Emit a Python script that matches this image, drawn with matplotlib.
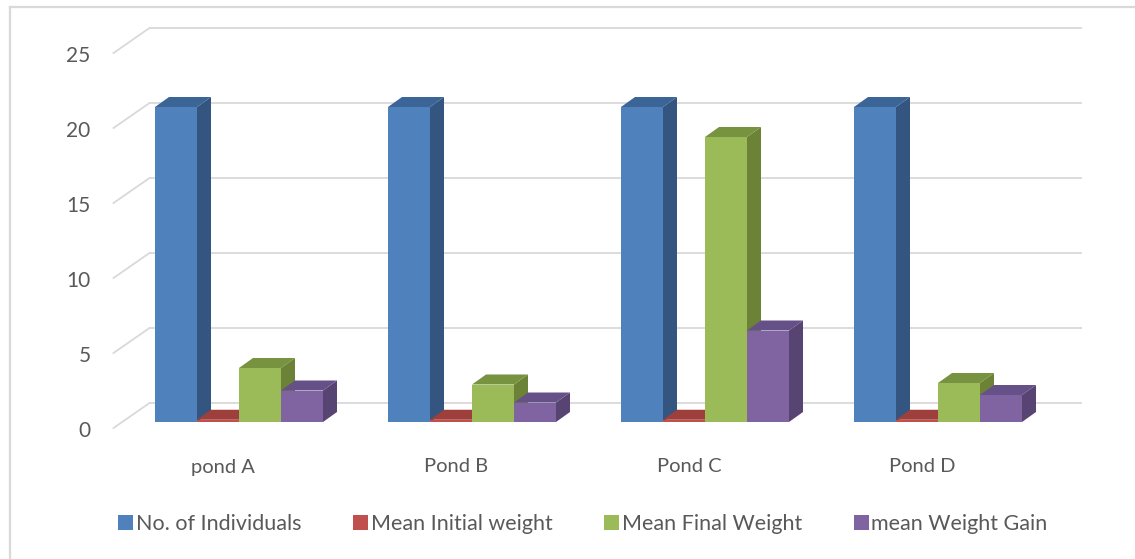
import matplotlib
matplotlib.use("Agg")
import matplotlib.pyplot as plt
from matplotlib.patches import Polygon, Patch
from matplotlib.lines import Line2D
import numpy as np

plt.rcParams['font.family'] = ['Lato', 'DejaVu Sans']

ponds = ["pond A", "Pond B", "Pond C", "Pond D"]
series = ["No. of Individuals", "Mean Initial weight", "Mean Final Weight", "mean Weight Gain"]
individuals = [21, 21, 21, 21]
initial_weight = [0.15, 0.15, 0.15, 0.15]
final_weight = [3.6, 2.5, 19, 2.6]
weight_gain = [2.1, 1.3, 6.1, 1.8]
yticks = [0, 5, 10, 15, 20, 25]

# front face, side face, top face
colors = [
    ("#4F81BD", "#34557F", "#3B6597"),
    ("#C0504D", "#8E3A38", "#9E3F3C"),
    ("#9BBB59", "#6B8237", "#779340"),
    ("#8064A2", "#584473", "#665088"),
]
grid_col = "#D9D9D9"
text_col = "#595959"

W, H, DPI = 1135, 559, 100
fig = plt.figure(figsize=(W / DPI, H / DPI), dpi=DPI)
ax = fig.add_axes([0, 0, 1, 1])
# one category = 233 px, one value unit = 15 px
PX_X, PX_Y = 233.0, 15.0
x0_px, y0_px = 239.0, H - 422.0
ax.set_xlim(-x0_px / PX_X, (W - x0_px) / PX_X)
ax.set_ylim(-y0_px / PX_Y, (H - y0_px) / PX_Y)
ax.axis("off")

def off(px, py):
    return px / PX_X, py / PX_Y

# depth offsets (pixels) relative to the bar front plane
bar_d = off(14, 10)
back_d = off(27, 19)
front_d = off(-9, -6)

left, right = -0.5, 3.5
# back wall gridlines and side-wall diagonals
for t in yticks:
    ax.plot([left + back_d[0], right + back_d[0]], [t + back_d[1]] * 2,
            color=grid_col, lw=1.3, zorder=1, solid_capstyle="butt")
    ax.plot([left + front_d[0], left + back_d[0]], [t + front_d[1], t + back_d[1]],
            color=grid_col, lw=1.3, zorder=1)
    ax.text(left + front_d[0] - 23 / PX_X, t + front_d[1] - 3 / PX_Y, str(t), ha="right",
            va="center", fontsize=15, color=text_col)

bw = 42 / PX_X
values = [individuals, initial_weight, final_weight, weight_gain]
z = 2
for i in range(len(ponds)):
    for j, vals in enumerate(values):
        v = vals[i]
        xl = i + (j - 2) * bw
        xr = xl + bw
        front, side, top = colors[j]
        ax.bar(xl, v, width=bw, align="edge", color=front, zorder=z, lw=0)
        ax.add_patch(Polygon([(xr, 0), (xr + bar_d[0], bar_d[1]),
                              (xr + bar_d[0], v + bar_d[1]), (xr, v)],
                             closed=True, color=side, lw=0, zorder=z))
        ax.add_patch(Polygon([(xl, v), (xr, v), (xr + bar_d[0], v + bar_d[1]),
                              (xl + bar_d[0], v + bar_d[1])],
                             closed=True, color=top, lw=0, zorder=z))
        z += 1

for i, name in enumerate(ponds):
    ax.text(i + front_d[0] - 7 / PX_X, front_d[1] - 39 / PX_Y, name, ha="center",
            va="center", fontsize=14.5, color=text_col)

handles = [Patch(facecolor=c[0], edgecolor="none") for c in colors]
fig.legend(handles, series, loc="center", bbox_to_anchor=(583 / W, 35 / H), ncol=4,
           frameon=False, fontsize=15.5, labelcolor=text_col, handlelength=0.7,
           handleheight=0.7, handletextpad=0.12, columnspacing=2.4)

# chart area border
fig.add_artist(Line2D([9.5 / W, 9.5 / W], [0, 1 - 7 / H], color=grid_col, lw=1.6))
fig.add_artist(Line2D([9.5 / W, 1], [1 - 7 / H, 1 - 7 / H], color=grid_col, lw=1.6))

fig.savefig("out.png", dpi=DPI)
